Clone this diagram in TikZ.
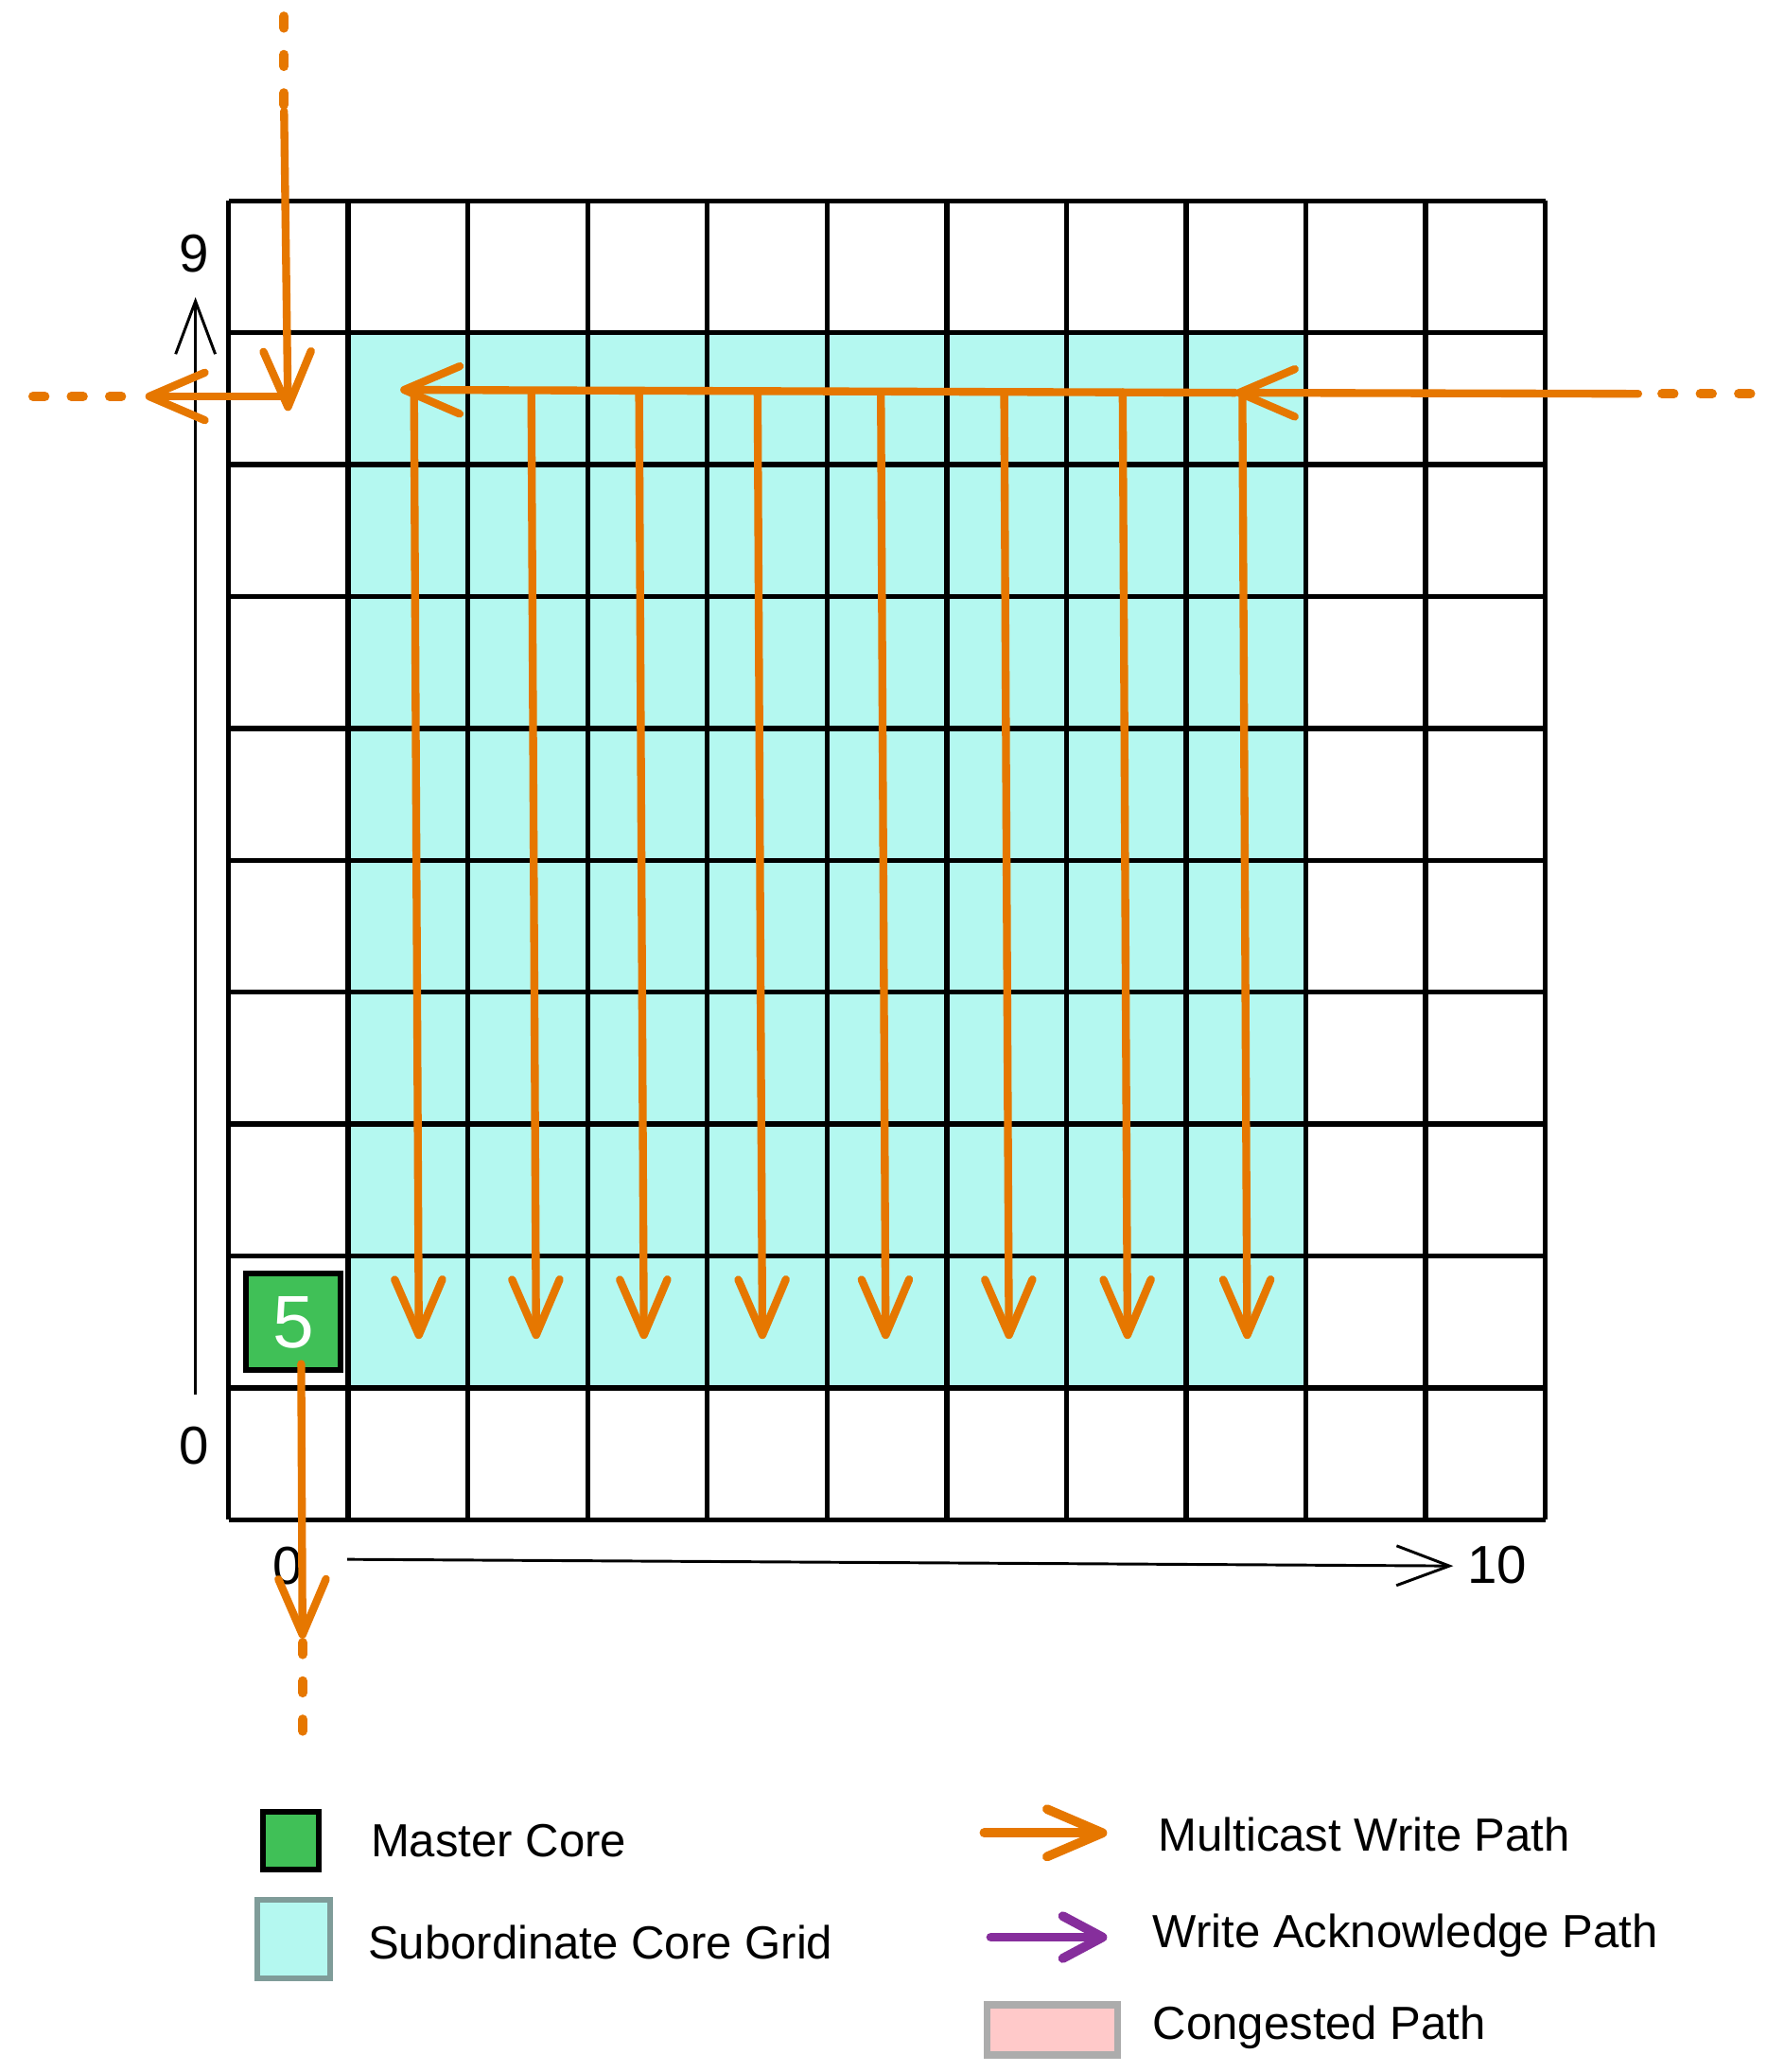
\documentclass[tikz,border=0pt]{standalone}
\usepackage{fontspec}
\setmainfont{Liberation Sans}
\usetikzlibrary{arrows.meta}

\definecolor{mcorange}{HTML}{E67700}
\definecolor{ackpurple}{HTML}{862E9C}
\definecolor{subcyan}{HTML}{B4F8F0}
\definecolor{mastergreen}{HTML}{40C057}
\definecolor{congpink}{HTML}{FFC9C9}
\definecolor{legendgray}{HTML}{7F9C99}

\begin{document}
\begin{tikzpicture}[x=0.906cm, y=0.998cm,
  gridline/.style={line width=1.1pt},
  mcpath/.style={mcorange, line width=1.7pt, line cap=round},
  mcarrow/.style={mcpath, -{Straight Barb[round, length=0.42cm, width=0.36cm]}},
  mcdash/.style={mcpath, line width=2pt, dash pattern=on 0.09cm off 0.2cm},
  ackarrow/.style={ackpurple, line width=2pt, line cap=round, -{Straight Barb[round, length=0.3cm, width=0.32cm]}},
  axis/.style={line width=0.6pt, -{Straight Barb[length=0.4cm, width=0.3cm]}},
  num/.style={font=\fontsize{11.5}{13}\selectfont},
  legtext/.style={anchor=west, inner sep=0pt, font=\fontsize{10}{12}\selectfont},
  master/.style={draw, line width=1.2pt, fill=mastergreen, text=white, minimum width=0.72cm,
    minimum height=0.73cm, inner sep=0pt, font=\fontsize{16}{18}\selectfont}
]

\useasboundingbox (-1.909,-4.188) rectangle (12.848,11.523);

% Untergitter
\fill[subcyan] (1,1) rectangle (9,9);

% Gitter
\foreach \i in {0,...,11}
  \draw[gridline] (\i,0) -- (\i,10);
\foreach \j in {0,...,10}
  \draw[gridline] (0,\j) -- (11,\j);

% Master Core
\node[master] (master) at (0.541,1.498) {5};

% Achsen
\coordinate (yfrom) at (-0.276,0.952);
\coordinate (yto) at (-0.276,9.269);
\draw[axis] (yfrom) -- (yto);
\node[num] (y9) at (-0.287,9.599) {9};
\node[num] (y0) at (-0.287,0.561) {0};
\coordinate (xfrom) at (0.993,-0.301);
\coordinate (xto) at (10.232,-0.351);
\draw[axis] (xfrom) -- (xto);
\node[num] (x0) at (0.497,-0.351) {0};
\node[num] (x10) at (10.596,-0.341) {10};

% Pfad von oben
\coordinate (ntop) at (0.464,11.40);
\coordinate (nin) at (0.464,10.68);
\coordinate (nend) at (0.497,8.407);
\draw[mcdash] (ntop) -- (nin);
\draw[mcarrow] (nin) -- (nend);

% Pfad nach links
\coordinate (wstart) at (0.497,8.517);
\coordinate (wend) at (-0.695,8.517);
\coordinate (wdash) at (-0.894,8.517);
\coordinate (wout) at (-1.678,8.517);
\draw[mcarrow] (wstart) -- (wend);
\draw[mcdash] (wdash) -- (wout);

% Pfad von rechts
\coordinate (eout) at (12.715,8.537);
\coordinate (ein) at (11.777,8.537);
\coordinate (einj) at (8.411,8.545);
\coordinate (eend) at (1.435,8.567);
\draw[mcdash] (eout) -- (ein);
\draw[mcarrow] (ein) -- (einj);
\draw[mcarrow] (einj) -- (eend);

% Spalten nach unten
\foreach \x [count=\i] in {1.55,2.53,3.43,4.42,5.45,6.48,7.47,8.47} {
  \coordinate (s\i) at (\x,8.55);
  \coordinate (e\i) at (\x+0.04,1.37);
  \draw[mcarrow] (s\i) -- (e\i);
}

% Pfad nach unten
\coordinate (sstart) at ([xshift=0.06cm,yshift=0.07cm]master.south);
\coordinate (send) at (0.618,-0.902);
\coordinate (sdash) at (0.62,-0.932);
\coordinate (sout) at (0.62,-1.653);
\draw[mcarrow] (sstart) -- (send);
\draw[mcdash] (sdash) -- (sout);

% Legende
\node[draw, line width=1.2pt, fill=mastergreen, minimum width=0.42cm, minimum height=0.44cm,
  inner sep=0pt] (lgmaster) at (0.519,-2.435) {};
\node[legtext] (lgmastertxt) at (1.181,-2.435) {Master Core};
\node[draw=legendgray, line width=1.2pt, fill=subcyan, minimum width=0.55cm, minimum height=0.59cm,
  inner sep=0pt] (lgsub) at (0.546,-3.181) {};
\node[legtext] (lgsubtxt) at (1.159,-3.206) {Subordinate Core Grid};
\coordinate (lgmcfrom) at (6.313,-2.375);
\coordinate (lgmcto) at (7.340,-2.375);
\draw[mcarrow, line width=2pt] (lgmcfrom) -- (lgmcto);
\node[legtext] (lgmctxt) at (7.759,-2.385) {Multicast Write Path};
\coordinate (lgackfrom) at (6.369,-3.166);
\coordinate (lgackto) at (7.340,-3.166);
\draw[ackarrow] (lgackfrom) -- (lgackto);
\node[legtext] (lgacktxt) at (7.715,-3.156) {Write Acknowledge Path};
\node[draw=gray!65, line width=1.5pt, fill=congpink, minimum width=0.99cm, minimum height=0.38cm,
  inner sep=0pt] (lgcong) at (6.882,-3.868) {};
\node[legtext] (lgcongtxt) at (7.715,-3.848) {Congested Path};

\end{tikzpicture}
\end{document}
